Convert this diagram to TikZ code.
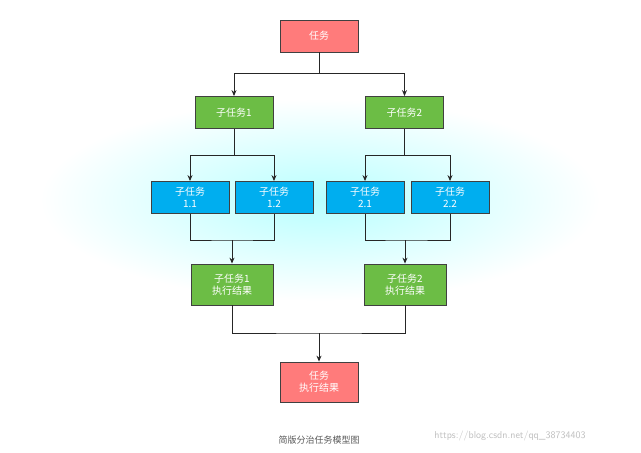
\documentclass[tikz,border=0pt]{standalone}
\usepackage{fontspec}
\newfontfamily\cjk{Noto Sans CJK SC}
\usetikzlibrary{arrows.meta}
\definecolor{red1}{HTML}{FF7B7B}
\definecolor{grn}{HTML}{6CBD45}
\definecolor{blu}{HTML}{00AEEF}
\tikzset{
 box/.style={draw=black!75,line width=0.8pt,minimum width=78pt,minimum height=32pt,text=white,font=\cjk\fontsize{10}{12}\selectfont,align=center,inner sep=1pt},
 rbox/.style={box,fill=red1},
 gbox/.style={box,fill=grn},
 bbox/.style={box,fill=blu},
 ln/.style={draw=black!85,line width=1pt},
 ar/.style={ln,-{Stealth[length=6pt,width=5pt]}}
}
\begin{document}
\begin{tikzpicture}[x=1pt,y=-1pt]
\useasboundingbox (0,0) rectangle (641,453);
\fill[white] (0,0) rectangle (641,453);
\begin{scope}[shift={(320,200)},yscale=0.36]
\shade[inner color=cyan!28,outer color=white] (0,0) circle (280);
\end{scope}
\node[rbox] (t) at (319,36) {任务};
\node[gbox] (s1) at (234,112.5) {子任务1};
\node[gbox] (s2) at (404.5,112.5) {子任务2};
\node[bbox] (s11) at (190,197.5) {子任务\\1.1};
\node[bbox] (s12) at (274,197.5) {子任务\\1.2};
\node[bbox] (s21) at (365,197.5) {子任务\\2.1};
\node[bbox] (s22) at (450,197.5) {子任务\\2.2};
\node[gbox,minimum width=82pt,minimum height=41pt] (r1) at (232,284.5) {子任务1\\执行结果};
\node[gbox,minimum width=82pt,minimum height=41pt] (r2) at (405,284.5) {子任务2\\执行结果};
\node[rbox,minimum height=40pt] (r) at (319,382) {任务\\执行结果};
\coordinate (j0) at (319,73);
\draw[ln] (t.south) -- (j0);
\draw[ar] (j0) -| (s1.north);
\draw[ar] (j0) -| (s2.north);
\coordinate (j1) at (234,155);
\draw[ln] (s1.south) -- (j1);
\draw[ar] (j1) -| (s11.north);
\draw[ar] (j1) -| (s12.north);
\coordinate (j2) at (404.5,155);
\draw[ln] (s2.south) -- (j2);
\draw[ar] (j2) -| (s21.north);
\draw[ar] (j2) -| (s22.north);
\coordinate (m1) at (232,240);
\draw[ln] (s11.south) |- (m1) -| (s12.south);
\draw[ar] (m1) -- (r1.north);
\coordinate (m2) at (405,240);
\draw[ln] (s21.south) |- (m2) -| (s22.south);
\draw[ar] (m2) -- (r2.north);
\coordinate (m3) at (319,333);
\draw[ln] (r1.south) |- (m3) -| (r2.south);
\draw[ar] (m3) -- (r.north);
\node[font=\cjk\fontsize{9}{11}\selectfont,text=black!65] (cap) at (319,440) {简版分治任务模型图};
\node[font=\sffamily\fontsize{10}{12}\selectfont,text=black!25] (wm) at (510,436) {https://blog.csdn.net/qq\_38734403};
\end{tikzpicture}
\end{document}
